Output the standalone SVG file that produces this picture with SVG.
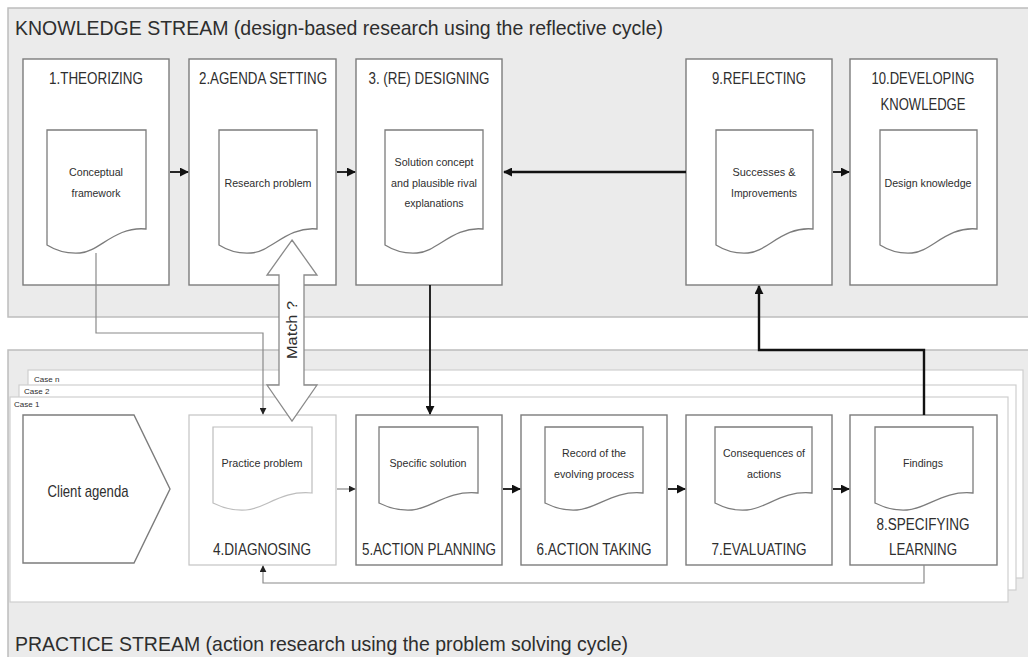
<svg xmlns="http://www.w3.org/2000/svg" width="1028" height="657" viewBox="0 0 1028 657">
<defs>
<marker id="ah" viewBox="0 0 10 10" refX="9" refY="5" markerWidth="9" markerHeight="9" markerUnits="userSpaceOnUse" orient="auto"><path d="M0,0 L10,5 L0,10 Z" fill="#111"/></marker>
<marker id="ahs" viewBox="0 0 10 10" refX="9" refY="5" markerWidth="7" markerHeight="7" markerUnits="userSpaceOnUse" orient="auto"><path d="M0,0 L10,5 L0,10 Z" fill="#222"/></marker>
<style>
text{font-family:"Liberation Sans",Arial,sans-serif;fill:#2e2e2e}
.panel{fill:#ebebeb;stroke:#bdbdbd;stroke-width:1.5}
.box{fill:#fff;stroke:#7c7c7c;stroke-width:1.4}
.boxl{fill:#fff;stroke:#c4c4c4;stroke-width:1.2}
.doc{fill:#fff;stroke:#7c7c7c;stroke-width:1.3}
.docl{fill:#fff;stroke:#bdbdbd;stroke-width:1.2}
.frame{fill:#fff;stroke:#cfcfcf;stroke-width:1.2}
.hd{font-size:21px}
.ti{font-size:16px;text-anchor:middle}
.dt{font-size:11.5px;text-anchor:middle}
.cs{font-size:8px}
.thick{fill:none;stroke:#111;stroke-width:2.4}
.mid{fill:none;stroke:#111;stroke-width:1.8}
.thin{fill:none;stroke:#8a8a8a;stroke-width:1.2}
</style>
</defs>
<rect width="1028" height="657" fill="#fff"/>
<rect class="panel" x="8" y="8" width="1030" height="309"/>
<rect class="panel" x="8" y="350" width="1030" height="320"/>
<text class="hd" x="15" y="35" textLength="648" lengthAdjust="spacingAndGlyphs">KNOWLEDGE STREAM (design-based research using the reflective cycle)</text>
<text class="hd" x="15" y="651" textLength="613" lengthAdjust="spacingAndGlyphs">PRACTICE STREAM (action research using the problem solving cycle)</text>
<g id="cases">
<rect class="frame" x="28" y="370" width="995" height="208"/>
<text class="cs" x="34" y="382">Case n</text>
<rect class="frame" x="19" y="385" width="997" height="205"/>
<text class="cs" x="24" y="394">Case 2</text>
<rect class="frame" x="10" y="397" width="998" height="205"/>
<text class="cs" x="14" y="407">Case 1</text>
</g>
<g id="n1"><rect class="box" x="23" y="59" width="146" height="226"/><text class="ti" x="96" y="84" textLength="94" lengthAdjust="spacingAndGlyphs">1.THEORIZING</text>
<path class="doc" d="M47,130 H146 V229 C115,226 99,252 80,253 C65,254 55,250 47,245 Z"/>
<text class="dt" x="96" y="176" textLength="54" lengthAdjust="spacingAndGlyphs">Conceptual</text><text class="dt" x="96" y="197" textLength="49" lengthAdjust="spacingAndGlyphs">framework</text></g>
<g id="n2"><rect class="box" x="189" y="59" width="147" height="226"/><text class="ti" x="263" y="84" textLength="128" lengthAdjust="spacingAndGlyphs">2.AGENDA SETTING</text>
<path class="doc" d="M219,130 H317 V229 C287,226 271,252 251,253 C237,254 227,250 219,245 Z"/>
<text class="dt" x="268" y="187" textLength="87" lengthAdjust="spacingAndGlyphs">Research problem</text></g>
<g id="n3"><rect class="box" x="356" y="59" width="146" height="226"/><text class="ti" x="429" y="84" textLength="121" lengthAdjust="spacingAndGlyphs">3. (RE) DESIGNING</text>
<path class="doc" d="M385,130 H483 V229 C453,226 437,252 417,253 C403,254 393,250 385,245 Z"/>
<text class="dt" x="434" y="166" textLength="79" lengthAdjust="spacingAndGlyphs">Solution concept</text><text class="dt" x="434" y="187" textLength="86" lengthAdjust="spacingAndGlyphs">and plausible rival</text><text class="dt" x="434" y="207" textLength="59" lengthAdjust="spacingAndGlyphs">explanations</text></g>
<g id="n9"><rect class="box" x="686" y="59" width="146" height="226"/><text class="ti" x="759" y="84" textLength="94" lengthAdjust="spacingAndGlyphs">9.REFLECTING</text>
<path class="doc" d="M716,130 H813 V229 C783,226 767,252 748,253 C734,254 724,250 716,245 Z"/>
<text class="dt" x="764" y="176" textLength="63" lengthAdjust="spacingAndGlyphs">Successes &amp;</text><text class="dt" x="764" y="197" textLength="66" lengthAdjust="spacingAndGlyphs">Improvements</text></g>
<g id="n10"><rect class="box" x="850" y="59" width="147" height="226"/><text class="ti" x="923" y="84" textLength="103" lengthAdjust="spacingAndGlyphs">10.DEVELOPING</text><text class="ti" x="923" y="110" textLength="85" lengthAdjust="spacingAndGlyphs">KNOWLEDGE</text>
<path class="doc" d="M880,130 H977 V229 C947,226 931,252 912,253 C898,254 888,250 880,245 Z"/>
<text class="dt" x="928" y="187" textLength="87" lengthAdjust="spacingAndGlyphs">Design knowledge</text></g>
<g id="client"><path class="box" d="M23,415 H134 L170,489 L134,563 H23 Z"/><text x="88" y="497" font-size="17" text-anchor="middle" textLength="81" lengthAdjust="spacingAndGlyphs">Client agenda</text></g>
<g id="n4"><rect class="boxl" x="189" y="415" width="147" height="150"/>
<path class="docl" d="M213,427 H312 V493 C281,490 265,509 246,510 C231,511 221,507 213,503 Z"/>
<text class="dt" x="262" y="467" textLength="81" lengthAdjust="spacingAndGlyphs">Practice problem</text>
<text class="ti" x="262" y="555" textLength="98" lengthAdjust="spacingAndGlyphs">4.DIAGNOSING</text></g>
<g id="n5"><rect class="box" x="356" y="415" width="146" height="150"/>
<path class="doc" d="M379,427 H478 V493 C447,490 431,509 412,510 C397,511 387,507 379,503 Z"/>
<text class="dt" x="428" y="467" textLength="77" lengthAdjust="spacingAndGlyphs">Specific solution</text>
<text class="ti" x="429" y="555" textLength="134" lengthAdjust="spacingAndGlyphs">5.ACTION PLANNING</text></g>
<g id="n6"><rect class="box" x="521" y="415" width="146" height="150"/>
<path class="doc" d="M545,427 H643 V493 C613,490 597,509 577,510 C563,511 553,507 545,503 Z"/>
<text class="dt" x="594" y="457" textLength="64" lengthAdjust="spacingAndGlyphs">Record of the</text><text class="dt" x="594" y="478" textLength="80" lengthAdjust="spacingAndGlyphs">evolving process</text>
<text class="ti" x="594" y="555" textLength="115" lengthAdjust="spacingAndGlyphs">6.ACTION TAKING</text></g>
<g id="n7"><rect class="box" x="686" y="415" width="146" height="150"/>
<path class="doc" d="M715,427 H812 V493 C782,490 766,509 747,510 C732,511 723,507 715,503 Z"/>
<text class="dt" x="764" y="457" textLength="82" lengthAdjust="spacingAndGlyphs">Consequences of</text><text class="dt" x="764" y="478" textLength="34" lengthAdjust="spacingAndGlyphs">actions</text>
<text class="ti" x="759" y="555" textLength="95" lengthAdjust="spacingAndGlyphs">7.EVALUATING</text></g>
<g id="n8"><rect class="box" x="850" y="415" width="147" height="150"/>
<path class="doc" d="M875,427 H973 V493 C943,490 927,509 907,510 C893,511 883,507 875,503 Z"/>
<text class="dt" x="923" y="467" textLength="40" lengthAdjust="spacingAndGlyphs">Findings</text>
<text class="ti" x="923" y="530" textLength="93" lengthAdjust="spacingAndGlyphs">8.SPECIFYING</text><text class="ti" x="923" y="555" textLength="68" lengthAdjust="spacingAndGlyphs">LEARNING</text></g>
<g id="connectors">
<path class="mid" d="M170,172 H188" marker-end="url(#ah)"/>
<path class="mid" d="M337,172 H355" marker-end="url(#ah)"/>
<path class="thick" d="M686,172 H504" marker-end="url(#ah)"/>
<path class="mid" d="M833,172 H849" marker-end="url(#ah)"/>
<path class="mid" d="M430,285 V414" marker-end="url(#ah)"/>
<path class="thick" d="M924,415 V350 H759 V286" marker-end="url(#ah)"/>
<path class="thin" d="M96,253 V333 H263 V414" marker-end="url(#ahs)"/>
<path class="thin" d="M924,565 V583 H263 V566" marker-end="url(#ahs)"/>
<path class="thin" d="M337,489 H355" marker-end="url(#ahs)"/>
<path class="mid" d="M503,489 H520" marker-end="url(#ah)"/>
<path class="mid" d="M668,489 H685" marker-end="url(#ah)"/>
<path class="mid" d="M833,489 H849" marker-end="url(#ah)"/>
</g>
<g id="match">
<polygon points="292,240 317,275 304,275 304,385 317,385 292,421 267,385 279,385 279,275 267,275" fill="#fff" stroke="#8a8a8a" stroke-width="1.3"/>
<text x="0" y="0" font-size="14" text-anchor="middle" transform="translate(297,330) rotate(-90)" textLength="58" lengthAdjust="spacingAndGlyphs">Match ?</text>
</g>
</svg>
